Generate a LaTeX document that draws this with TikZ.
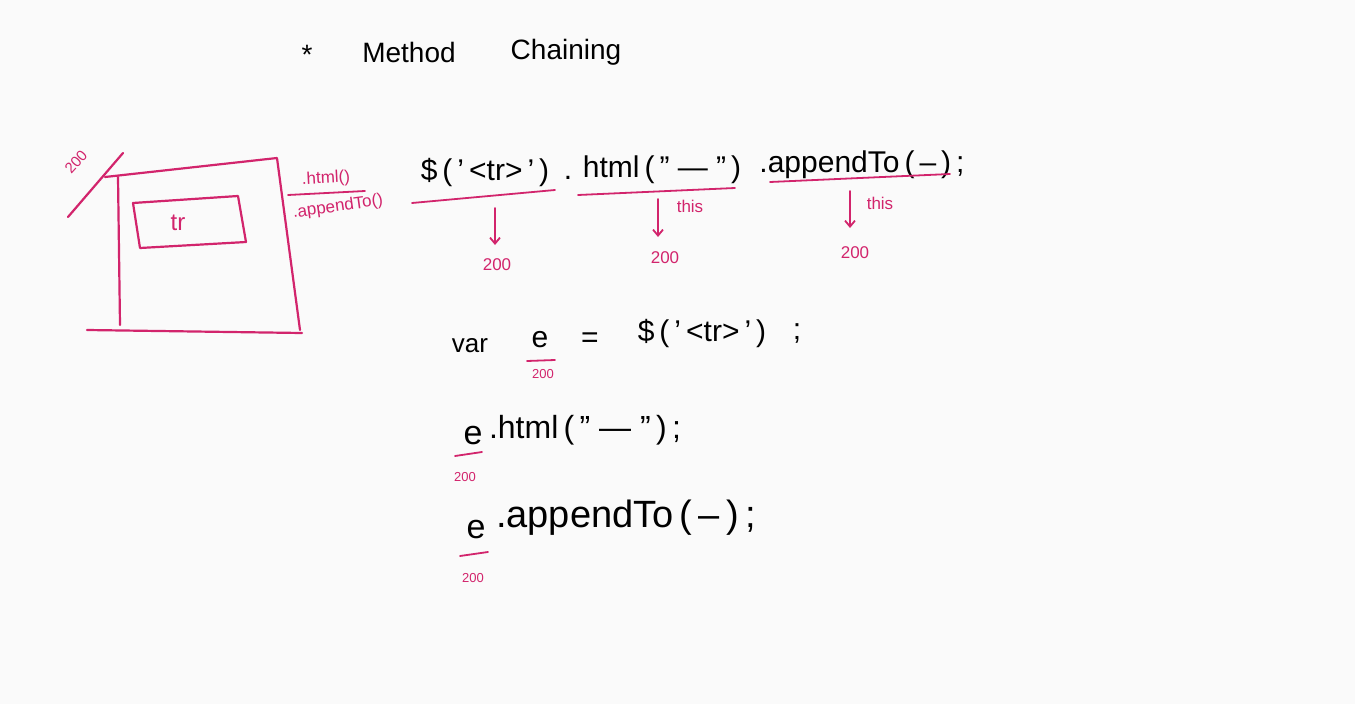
\documentclass[tikz,border=0pt]{standalone}
\usepackage{fontspec}
\setmainfont{Liberation Sans}
\usetikzlibrary{arrows.meta}
\definecolor{pinkink}{HTML}{D2246C}
\definecolor{paper}{HTML}{FAFAFA}
\tikzset{
  code/.style={font=\fontsize{30}{32}\selectfont, text=black, inner sep=0pt},
  codesm/.style={font=\fontsize{26}{28}\selectfont, text=black, inner sep=0pt},
  ptext/.style={font=\fontsize{17}{18}\selectfont, text=pinkink, inner sep=0pt},
  psmall/.style={font=\fontsize{13}{14}\selectfont, text=pinkink, inner sep=0pt},
  pline/.style={draw=pinkink, line width=2.2pt, line cap=round, line join=round},
  parrow/.style={pline, line width=1.8pt, -{Straight Barb[length=6pt,width=10pt]}},
}
\begin{document}
\begin{tikzpicture}[x=1pt,y=-1pt]
\fill[paper] (0,0) rectangle (1355,704);
\useasboundingbox (0,0) rectangle (1355,704);

% title
\node[code, font=\fontsize{28}{30}\selectfont] (star) at (307,55) {*};
\node[code, font=\fontsize{28}{30}\selectfont] (ttl1) at (409,52) {Method};
\node[code, font=\fontsize{28}{30}\selectfont] (ttl2) at (566,52) {Chaining};

% box sketch
\coordinate (o1) at (105,177);
\coordinate (o2) at (277,158);
\coordinate (o3) at (300,330);
\draw[pline] (o1) -- (o2) -- (o3);
\draw[pline] (118,177) -- (120,325);
\draw[pline] (87,330) -- (302,333);
\draw[pline] (68,217) -- (123,153);
\node[ptext, font=\fontsize{15}{16}\selectfont, rotate=48] (b200) at (76,162) {200};
\draw[pline] (133,203) -- (238,196) -- (246,242) -- (140,248) -- cycle;
\node[ptext, font=\fontsize{24}{26}\selectfont] (tr) at (178,223) {tr};
\node[ptext, rotate=3] (lh) at (326,179) {.html()};
\draw[pline, line width=1.8pt] (288,195) -- (365,191);
\node[ptext, rotate=8] (la) at (338,207) {.appendTo()};

% chained line
\node[code] (c1) at (485,172) {\$\,(\,'\,<tr>\,'\,)};
\node[code] (c2) at (568,178) {.};
\node[code] (c3) at (662,170) {html\,(\," — "\,)};
\node[code] (c4) at (862,165) {.appendTo\,(\,–\,)\,;};

\coordinate (u1a) at (412,203); \coordinate (u1b) at (555,190);
\coordinate (u2a) at (578,195); \coordinate (u2b) at (735,188);
\coordinate (u3a) at (770,182); \coordinate (u3b) at (950,174);
\draw[pline, line width=1.8pt] (u1a) -- (u1b);
\draw[pline, line width=1.8pt] (u2a) -- (u2b);
\draw[pline, line width=1.8pt] (u3a) -- (u3b);

\coordinate (a1) at (495,208);
\coordinate (a2) at (658,199);
\coordinate (a3) at (850,191);
\node[ptext] (n1) at (497,265) {200};
\node[ptext] (n2) at (665,258) {200};
\node[ptext] (n3) at (855,253) {200};
\draw[parrow] (a1) -- (495,245);
\draw[parrow] (a2) -- (658,237);
\draw[parrow] (a3) -- (850,228);
\node[ptext] (t2) at (690,206) {this};
\node[ptext] (t3) at (880,203) {this};

% var e = ...
\node[codesm] (var) at (470,346) {var};
\node[code] (e1) at (540,340) {e};
\draw[pline, line width=1.8pt] (527,361) -- (555,360);
\node[psmall] (e1n) at (543,374) {200};
\node[code] (eq) at (590,340) {=};
\node[code] (rhs) at (702,333) {\$\,(\,'\,<tr>\,'\,)};
\node[code] (semi1) at (797,333) {;};

% e.html
\node[code, font=\fontsize{34}{36}\selectfont] (e2) at (473,436) {e};
\node[code, font=\fontsize{32}{34}\selectfont] (e2r) at (585,430) {.html\,(\," — "\,)\,;};
\draw[pline, line width=1.8pt] (455,456) -- (482,452);
\node[psmall] (e2n) at (465,477) {200};

% e.appendTo
\node[code, font=\fontsize{34}{36}\selectfont] (e3) at (476,530) {e};
\node[code, font=\fontsize{38}{40}\selectfont] (e3r) at (626,518) {.appendTo\,(\,–\,)\,;};
\draw[pline, line width=1.8pt] (460,556) -- (488,552);
\node[psmall] (e3n) at (473,578) {200};
\end{tikzpicture}
\end{document}
